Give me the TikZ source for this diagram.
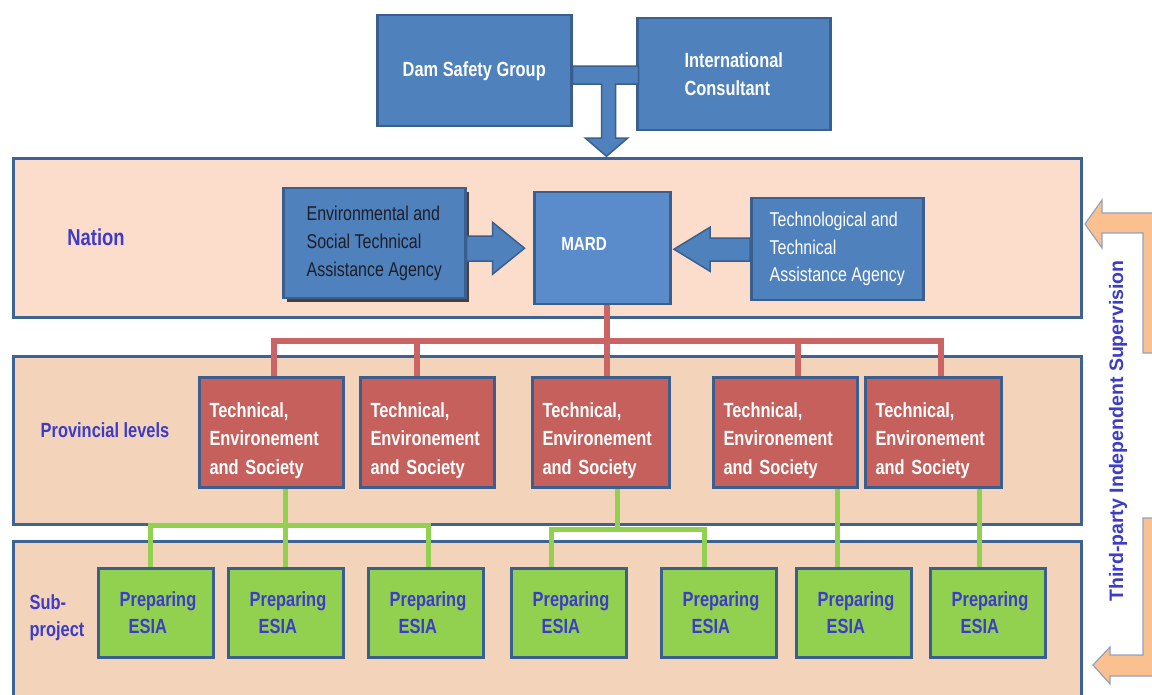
\documentclass[tikz,border=0pt]{standalone}
\usepackage{fontspec}
\setmainfont{Liberation Sans}[FakeStretch=0.8]
\newfontfamily\widefont{Liberation Sans}
\usetikzlibrary{calc,shadows}

\definecolor{bandline}{HTML}{3D6394}
\definecolor{nationfill}{HTML}{FCDCCB}
\definecolor{provfill}{HTML}{F3D3B9}
\definecolor{boxblue}{HTML}{4F81BD}
\definecolor{mardblue}{HTML}{5A8BCB}
\definecolor{boxline}{HTML}{3A5F8E}
\definecolor{redfill}{HTML}{C5605C}
\definecolor{linkred}{HTML}{CB6464}
\definecolor{greenfill}{HTML}{92D050}
\definecolor{linkgreen}{HTML}{92D050}
\definecolor{labelblue}{HTML}{3C3CC8}
\definecolor{arrowfill}{HTML}{FAC090}
\definecolor{arrowline}{HTML}{8FA4C2}
\definecolor{shadowc}{HTML}{4A3F3A}
\definecolor{envtext}{HTML}{1E1E28}

\newcommand\lowpad[1]{\rule[-#1]{0pt}{#1}}

\pgfdeclarelayer{bands}
\pgfdeclarelayer{links}
\pgfsetlayers{bands,links,main}

\begin{document}
\begin{tikzpicture}[x=1pt,y=-1pt,
  band/.style={draw=bandline,line width=3pt,anchor=north west,inner sep=0pt,minimum width=1068pt},
  bluebox/.style={draw=boxline,fill=boxblue,line width=2.5pt,anchor=north west,inner sep=0pt,
    align=left,text=white,font=\bfseries\fontsize{20.5}{28}\selectfont},
  techbox/.style={draw=boxline,fill=redfill,line width=3pt,anchor=north west,inner xsep=10pt,
    inner ysep=0pt,minimum height=110pt,align=left,text=white,
    font=\bfseries\fontsize{20.5}{28.5}\selectfont,execute at begin node={\rule{0pt}{31pt}}},
  esiabox/.style={draw=boxline,fill=greenfill,line width=3pt,anchor=north west,inner sep=0pt,
    minimum width=115pt,minimum height=89pt,align=left,text=labelblue,
    font=\bfseries\fontsize{20.5}{27}\selectfont,execute at begin node={\hspace*{4pt}}},
  levellabel/.style={text=labelblue,font=\bfseries\fontsize{20.5}{27}\selectfont,align=left},
  redlink/.style={draw=linkred,line width=5.5pt},
  greenlink/.style={draw=linkgreen,line width=5pt},
  blockarrow/.style={fill=boxblue,draw=boxline,line width=1.5pt,line join=miter},
  sidearrow/.style={fill=arrowfill,draw=arrowline,line width=1.2pt,line join=miter}
]
\useasboundingbox (0,0) rectangle (1152,695);
\clip (0,0) rectangle (1152,695);

% ---------- level bands ----------
\begin{pgfonlayer}{bands}
\begin{scope}
\clip (0,0) rectangle (1152,695);
\fill[white] (0,0) rectangle (1152,695);
\node[band,fill=nationfill,minimum height=159pt] (nation) at (12,157) {};
\node[band,fill=provfill,minimum height=168pt] (province) at (12,355) {};
\node[band,fill=provfill,minimum height=200pt] (subproject) at (12,540) {};
\end{scope}
\end{pgfonlayer}

\node[levellabel,font=\bfseries\fontsize{23}{27}\selectfont] (lnation) at (96,237) {Nation};
\node[levellabel] (lprov) at (105,430) {Provincial levels};
\node[levellabel] (lsub) at (57,618) {Sub-\\project};

% ---------- top boxes ----------
\node[bluebox,minimum width=194pt,minimum height=111pt] (dam) at (376,14) {Dam Safety Group};
\node[bluebox,minimum width=193pt,minimum height=112pt] (intl) at (636,17) {International\\Consultant};

% ---------- national level ----------
\node[bluebox,minimum width=182pt,minimum height=110pt,text=envtext,
  font=\fontsize{20}{28}\selectfont,
  drop shadow={shadow xshift=4pt,shadow yshift=-4pt,fill=shadowc,opacity=1}]
  (env) at (282,187) {Environmental and\\Social Technical\\Assistance Agency};
\node[bluebox,fill=mardblue,minimum height=112pt,text width=82pt,inner xsep=27pt,
  font=\bfseries\fontsize{19}{22}\selectfont,execute at end node={\lowpad{8pt}}]
  (mard) at (533,191) {MARD};
\node[bluebox,minimum width=172pt,minimum height=102pt,
  font=\fontsize{20}{27.5}\selectfont,execute at begin node={\rule{0pt}{25pt}}]
  (tech) at (750,197) {Technological and\\Technical\\Assistance Agency};

% ---------- provincial level ----------
\node[techbox,text width=124pt] (t1) at (198,376) {Technical,\\Environement\\and Society};
\node[techbox,text width=114pt] (t2) at (359,376) {Technical,\\Environement\\and Society};
\node[techbox,text width=117pt] (t3) at (531,376) {Technical,\\Environement\\and Society};
\node[techbox,text width=124pt] (t4) at (712,376) {Technical,\\Environement\\and Society};
\node[techbox,text width=116pt] (t5) at (864,376) {Technical,\\Environement\\and Society};

% ---------- sub-project level ----------
\node[esiabox] (g1) at (97,567)  {Preparing\\\hspace*{9pt}ESIA};
\node[esiabox] (g2) at (227,567) {Preparing\\\hspace*{9pt}ESIA};
\node[esiabox] (g3) at (367,567) {Preparing\\\hspace*{9pt}ESIA};
\node[esiabox] (g4) at (510,567) {Preparing\\\hspace*{9pt}ESIA};
\node[esiabox] (g5) at (660,567) {Preparing\\\hspace*{9pt}ESIA};
\node[esiabox] (g6) at (795,567) {Preparing\\\hspace*{9pt}ESIA};
\node[esiabox] (g7) at (929,567) {Preparing\\\hspace*{9pt}ESIA};

% ---------- connectors ----------
\begin{pgfonlayer}{links}
\begin{scope}
\clip (0,0) rectangle (1152,695);
% MARD to the provincial offices
\coordinate (rj) at (607,341);
\draw[redlink] ($(mard.south west)+(74,0)$) -- (rj);
\draw[redlink] ($(t1.north west)+(76,0)$) |- (rj) -| ($(t5.north west)+(77,0)$);
\coordinate (r2) at ($(t2.north west)+(58,0)$);
\coordinate (r3) at ($(t3.north west)+(76,0)$);
\coordinate (r4) at ($(t4.north west)+(86,0)$);
\draw[redlink] (r2) -- (r2 |- rj);
\draw[redlink] (r3) -- (r3 |- rj);
\draw[redlink] (r4) -- (r4 |- rj);
% provincial offices to the sub-projects
\coordinate (j1) at (285,525);
\coordinate (j2) at (617,529);
\draw[greenlink] ($(t1.south west)+(87,0)$) -- (j1);
\draw[greenlink] ($(g1.north west)+(53,0)$) |- (j1) -| ($(g3.north west)+(61,0)$);
\draw[greenlink] (j1) -- ($(g2.north west)+(58,0)$);
\draw[greenlink] ($(t3.south west)+(86,0)$) -- (j2);
\draw[greenlink] ($(g4.north west)+(41,0)$) |- (j2) -| ($(g5.north west)+(44,0)$);
\draw[greenlink] ($(t4.south west)+(125,0)$) -- ($(g6.north west)+(42,0)$);
\draw[greenlink] ($(t5.south west)+(115,0)$) -- ($(g7.north west)+(50,0)$);
% supervision arrows on the right
\draw[sidearrow] (1085,224) -- (1102,200) -- (1102,213) -- (1170,213) -- (1170,353)
  -- (1143,353) -- (1143,233) -- (1102,233) -- (1102,248) -- cycle;
\draw[sidearrow] (1093,665) -- (1110,647) -- (1110,655) -- (1143,655) -- (1143,518)
  -- (1170,518) -- (1170,676) -- (1110,676) -- (1110,684) -- cycle;
\end{scope}
\end{pgfonlayer}

% T-shaped arrow from the top boxes down to the nation band
\draw[blockarrow] ($(dam.east)+(0,-4.5)$) -- ++(66,0) -- ++(0,18) -- ++(-23,0) -- ++(0,54)
  -- ++(12,0) -- ++(-21,18) -- ++(-21,-18) -- ++(16,0) -- ++(0,-54) -- ++(-29,0) -- cycle;

% agencies feeding MARD
\draw[blockarrow] ($(env.east)+(0,-7)$) -- ++(26,0) -- ++(0,-14) -- ++(32,26) -- ++(-32,26)
  -- ++(0,-13) -- ++(-26,0) -- cycle;
\draw[blockarrow] ($(tech.west)+(0,-11)$) -- ++(-40,0) -- ++(0,-11) -- ++(-36,22) -- ++(36,22)
  -- ++(0,-10) -- ++(40,0) -- cycle;

\node[rotate=90,text=labelblue,font=\widefont\bfseries\fontsize{19.5}{24}\selectfont]
  (tpis) at (1118,431) {Third-party Independent Supervision};
\end{tikzpicture}
\end{document}
